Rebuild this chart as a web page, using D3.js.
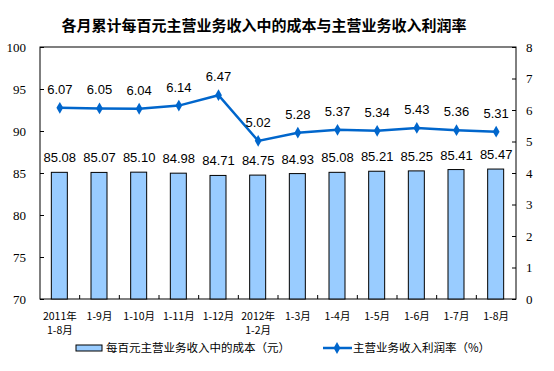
<!DOCTYPE html>
<html><head><meta charset="utf-8">
<script src="https://cdn.jsdelivr.net/npm/d3@7"></script>
<style>body{margin:0;background:#fff}svg{display:block}</style>
</head><body>
<script>
const categories1 = ["2011年","1-9月","1-10月","1-11月","1-12月","2012年","1-3月","1-4月","1-5月","1-6月","1-7月","1-8月"];
const categories2 = ["1-8月","","","","","1-2月","","","","","",""];
const costValues = [85.08,85.07,85.10,84.98,84.71,84.75,84.93,85.08,85.21,85.25,85.41,85.47];
const profitRates = [6.07,6.05,6.04,6.14,6.47,5.02,5.28,5.37,5.34,5.43,5.36,5.31];
const leftTicks = [70,75,80,85,90,95,100];
const rightTicks = [0,1,2,3,4,5,6,7,8];
const title = "各月累计每百元主营业务收入中的成本与主营业务收入利润率";
const legendBar = "每百元主营业务收入中的成本（元）";
const legendLine = "主营业务收入利润率（%）";

const W=554,H=371;
const m={l:40,r:516,t:47,b:299};
const svg=d3.select("body").append("svg").attr("width",W).attr("height",H);
const idx=d3.range(categories1.length);
const x=d3.scaleBand().domain(idx).range([m.l,m.r]);
const yL=d3.scaleLinear().domain([70,100]).range([m.b,m.t]);
const yR=d3.scaleLinear().domain([0,8]).range([m.b,m.t]);
const lineColor="#0066CC";

svg.append("text").attr("x",264).attr("y",31).attr("text-anchor","middle")
  .attr("font-family","'Noto Sans CJK SC'").attr("font-size",15).attr("font-weight","bold")
  .text(title);

// plot frame
svg.append("rect").attr("x",m.l).attr("y",m.t).attr("width",m.r-m.l).attr("height",m.b-m.t)
  .attr("fill","none").attr("stroke","#000").attr("stroke-width",1);

// bars
const bw=16;
svg.selectAll("rect.bar").data(costValues).enter().append("rect")
  .attr("x",(d,i)=>x(i)+x.bandwidth()/2-bw/2-0.5).attr("width",bw)
  .attr("y",d=>yL(d)).attr("height",d=>m.b-yL(d))
  .attr("fill","#99CCFF").attr("stroke","#000").attr("stroke-width",1);

// left axis
const gL=svg.append("g").attr("transform",`translate(${m.l},0)`)
  .call(d3.axisLeft(yL).tickValues(leftTicks).tickSizeInner(-4).tickSizeOuter(0).tickPadding(14));
gL.select(".domain").remove();
gL.selectAll("text").attr("font-family","'Liberation Serif'").attr("font-size",13).attr("fill","#000");
// right axis
const gR=svg.append("g").attr("transform",`translate(${m.r},0)`)
  .call(d3.axisRight(yR).tickValues(rightTicks).tickSizeInner(-4).tickSizeOuter(0).tickPadding(10));
gR.select(".domain").remove();
gR.selectAll("text").attr("font-family","'Liberation Serif'").attr("font-size",13).attr("fill","#000");
// x ticks at band boundaries
svg.selectAll("line.xt").data(d3.range(1,categories1.length)).enter().append("line")
  .attr("x1",i=>x(i)).attr("x2",i=>x(i)).attr("y1",m.b).attr("y2",m.b-4).attr("stroke","#000");

// x labels
svg.selectAll("text.c1").data(categories1).enter().append("text")
  .attr("x",(d,i)=>x(i)+x.bandwidth()/2).attr("y",320).attr("text-anchor","middle")
  .attr("font-family","'Noto Sans CJK SC'").attr("font-size",10.5).text(d=>d);
svg.selectAll("text.c2").data(categories2).enter().append("text")
  .attr("x",(d,i)=>x(i)+x.bandwidth()/2).attr("y",334).attr("text-anchor","middle")
  .attr("font-family","'Noto Sans CJK SC'").attr("font-size",10.5).text(d=>d);

// bar labels
svg.selectAll("text.bl").data(costValues).enter().append("text")
  .attr("x",(d,i)=>x(i)+x.bandwidth()/2).attr("y",d=>yL(d)-10).attr("text-anchor","middle")
  .attr("font-family","'Liberation Sans'").attr("font-size",13).text(d=>d.toFixed(2));

// line
const line=d3.line().x((d,i)=>x(i)+x.bandwidth()/2).y(d=>yR(d));
svg.append("path").datum(profitRates).attr("d",line).attr("fill","none")
  .attr("stroke",lineColor).attr("stroke-width",2.5);
const diamond=d3.symbol().type(d3.symbolDiamond).size(40);
svg.selectAll("path.pt").data(profitRates).enter().append("path")
  .attr("d",diamond).attr("transform",(d,i)=>`translate(${x(i)+x.bandwidth()/2},${yR(d)})`)
  .attr("fill",lineColor);
svg.selectAll("text.ll").data(profitRates).enter().append("text")
  .attr("x",(d,i)=>x(i)+x.bandwidth()/2).attr("y",d=>yR(d)-14).attr("text-anchor","middle")
  .attr("font-family","'Liberation Sans'").attr("font-size",13).text(d=>d.toFixed(2));

// legend
svg.append("rect").attr("x",76).attr("y",345).attr("width",26).attr("height",6)
  .attr("fill","#99CCFF").attr("stroke","#000");
svg.append("text").attr("x",106).attr("y",352).attr("font-family","'Noto Sans CJK SC'")
  .attr("font-size",11.5).text(legendBar);
svg.append("line").attr("x1",323).attr("x2",352).attr("y1",348).attr("y2",348)
  .attr("stroke",lineColor).attr("stroke-width",2.5);
svg.append("path").attr("d",diamond).attr("transform","translate(337,348)").attr("fill",lineColor);
svg.append("text").attr("x",353).attr("y",352).attr("font-family","'Noto Sans CJK SC'")
  .attr("font-size",11.5).text(legendLine);
</script>
</body></html>
